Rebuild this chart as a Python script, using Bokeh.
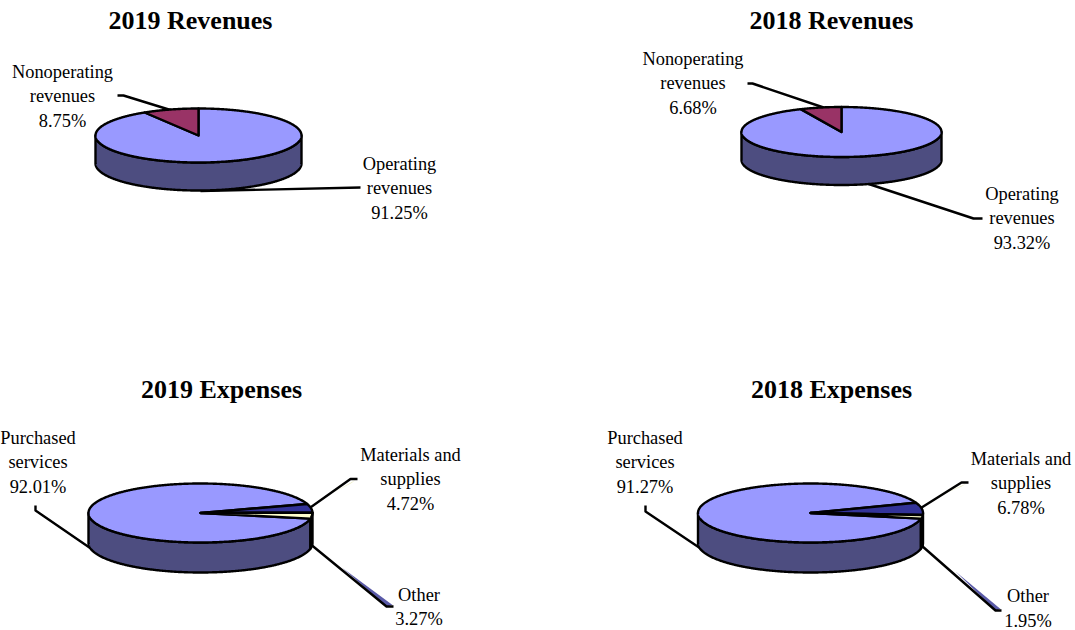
import numpy as np
from bokeh.plotting import figure
from bokeh.models import Range1d
from bokeh.core.properties import value
from bokeh.embed import file_html
from bokeh.resources import INLINE

# ---- data ----
rev_labels = [["Operating", "revenues"], ["Nonoperating", "revenues"]]
exp_labels = [["Purchased", "services"], ["Materials and", "supplies"], ["Other"]]
rev_2019 = [91.25, 8.75]
rev_2018 = [93.32, 6.68]
exp_2019 = [92.01, 4.72, 3.27]
exp_2018 = [91.27, 6.78, 1.95]

# ---- styles / layout ----
FONT = value("Liberation Serif")
REV_TOP, REV_SIDE = ["#9999FF", "#993366"], ["#4D4D80", "#4D1A33"]
EXP_TOP, EXP_SIDE = ["#9999FF", "#333399", "#FFFFCC"], ["#4D4D80", "#1A1A4D", "#000000"]

charts = [
    dict(title="2019 Revenues", tx=190, ty=20, vals=rev_2019, names=rev_labels, top=REV_TOP, side=REV_SIDE,
         c=(198, 135), a=103, b=27, d=28, start=0,
         lab=[(399, 163), (62, 71)],
         lead=[[(360, 187), (200, 190.5)], [(117, 95), (123, 95), (178, 112)]]),
    dict(title="2018 Revenues", tx=831, ty=20, vals=rev_2018, names=rev_labels, top=REV_TOP, side=REV_SIDE,
         c=(841, 131.5), a=100, b=25, d=28, start=0,
         lab=[(1021.5, 193), (692.5, 58)],
         lead=[[(982, 218), (973, 218), (850, 177.5)], [(747, 83), (752, 83), (832, 110)]]),
    dict(title="2019 Expenses", tx=221, ty=389, vals=exp_2019, names=exp_labels, top=EXP_TOP, side=EXP_SIDE,
         c=(200, 512.5), a=112, b=29.5, d=30, start=101,
         lab=[(37.5, 437), (410, 454), (418.5, 594)],
         lead=[[(35, 505), (35, 510), (102, 556)], [(357, 478.5), (350, 478.5), (300, 514)], [(393, 606), (386, 606), (303, 538)]],
         sliver=[[(332, 492.5), (355, 479.5), (351, 482.5)], [(342, 567.5), (392, 604.5), (386, 606)]]),
    dict(title="2018 Expenses", tx=831, ty=389, vals=exp_2018, names=exp_labels, top=EXP_TOP, side=EXP_SIDE,
         c=(810, 512.5), a=112.5, b=29.5, d=30, start=101,
         lab=[(644.5, 437), (1020.5, 458), (1027.5, 595.5)],
         lead=[[(645, 505), (645, 511), (712, 556)], [(968, 482), (961, 482), (910, 514)], [(1001, 610), (995, 610), (913, 538)]],
         sliver=[[(942, 494), (966, 483), (961, 486)], [(955, 571), (1000, 608.5), (995, 610)]]),
]

p = figure(width=1075, height=630, output_backend="svg", toolbar_location=None,
           x_range=Range1d(0, 1075), y_range=Range1d(630, 0), x_axis_type=None, y_axis_type=None,
           min_border=0, outline_line_color=None)
p.grid.visible = False


def arc(c, a, b, t0, t1, dy=0.0):
    t = np.radians(np.linspace(t0, t1, max(int(abs(t1 - t0)) * 2, 8)))
    return c[0] + a * np.sin(t), c[1] - b * np.cos(t) + dy


LW = 2.4
for ch in charts:
    c, a, b, d = ch["c"], ch["a"], ch["b"], ch["d"]
    spans, t = [], ch["start"]
    for v in ch["vals"]:
        spans.append((t, t + v * 3.6))
        t += v * 3.6

    # leaders, with the coloured slivers beneath them
    for pts, col in zip(ch.get("sliver", []), ["#E8E8B8", "#5A5AA8"]):
        p.patch([q[0] for q in pts], [q[1] for q in pts], fill_color=col, line_color=None)
    for pts in ch["lead"]:
        p.line([q[0] for q in pts], [q[1] for q in pts], line_color="black", line_width=LW, line_join="round")

    # side walls (visible half of the rim only)
    for (t0, t1), col in zip(spans, ch["side"]):
        for k in (0, 360):
            s0, s1 = max(t0, 90 + k), min(t1, 270 + k)
            if s1 > s0:
                x0, y0 = arc(c, a, b, s0, s1)
                x1, y1 = arc(c, a, b, s1, s0, d)
                p.patch(np.r_[x0, x1], np.r_[y0, y1], fill_color=col, line_color="black",
                        line_width=LW, line_join="round")

    # top faces
    for (t0, t1), col in zip(spans, ch["top"]):
        x, y = arc(c, a, b, t0, t1)
        p.patch(np.r_[c[0], x], np.r_[c[1], y], fill_color=col, line_color="black",
                line_width=LW, line_join="round")

    # text
    p.text([ch["tx"]], [ch["ty"]], text=[ch["title"]], text_font=FONT, text_font_size="26px",
           text_font_style="bold", text_align="center", text_baseline="middle", text_color="black")
    for v, names, (lx, ly) in zip(ch["vals"], ch["names"], ch["lab"]):
        for i, s in enumerate(names + [f"{v:.2f}%"]):
            p.text([lx], [ly + i * 24.6], text=[s], text_font=FONT, text_font_size="18.4px",
                   text_align="center", text_baseline="middle", text_color="black")

open("out.html", "w").write(file_html(p, INLINE))
